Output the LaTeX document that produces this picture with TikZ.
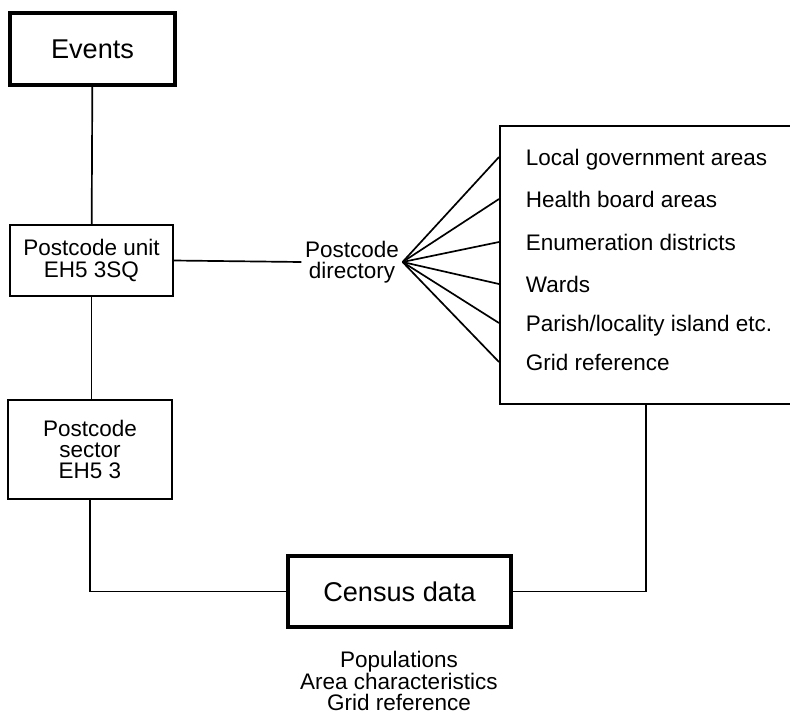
\documentclass[tikz,border=0pt]{standalone}
\usepackage{fontspec}
\setmainfont{Liberation Sans}
\tikzset{
  box/.style={draw, line width=1.2pt, align=center, inner sep=2pt, font=\fontsize{16}{15}\selectfont},
  bigbox/.style={box, line width=2.6pt, font=\fontsize{19.3}{22}\selectfont},
  item/.style={anchor=west, inner sep=0pt, text height=11.5pt, text depth=0pt, font=\fontsize{16}{15}\selectfont},
  txt/.style={align=center, inner sep=2pt, font=\fontsize{16}{15}\selectfont},
}
\begin{document}
\begin{tikzpicture}[x=0.025cm, y=-0.025cm, line width=1.2pt]
  \useasboundingbox (0,0) rectangle (790,713);
  \node[bigbox, minimum width=4.125cm, minimum height=1.8cm] (events) at (92.5,49) {Events};
  \node[box, minimum width=4.075cm, minimum height=1.775cm] (unit) at (91.5,260.5) {Postcode unit\\EH5 3SQ};
  \node[box, minimum width=4.1cm, minimum height=2.475cm] (sector) at (90,449.5) {Postcode\\sector\\EH5 3};
  \node[bigbox, minimum width=5.575cm, minimum height=1.775cm] (census) at (399.5,591.5) {Census data};
  \node[txt] (info) at (399,681) {Populations\\Area characteristics\\Grid reference};
  \node[txt] (dir) at (352,262) {Postcode\\directory};
  \node[box, anchor=north west, minimum width=8cm, minimum height=6.95cm] (list) at (499,125) {};
  \node[item] (lga) at (525,157) {Local government areas};
  \node[item] (hba) at (525,199) {Health board areas};
  \node[item] (ed) at (525,242) {Enumeration districts};
  \node[item] (wards) at (525,284) {Wards};
  \node[item] (parish) at (525,323) {Parish/locality island etc.};
  \node[item] (grid) at (525,362) {Grid reference};
  \coordinate (join) at (646,403);
  \draw (events) -- (unit);
  \draw (unit.south) -- (unit.south |- sector.north);
  \draw (sector.south) |- (census.west);
  \draw (census.east) -| (join);
  \draw (unit.east) -- (dir.west);
  \draw (dir.east) -- (list.west |- lga);
  \draw (dir.east) -- (list.west |- hba);
  \draw (dir.east) -- (list.west |- ed);
  \draw (dir.east) -- (list.west |- wards);
  \draw (dir.east) -- (list.west |- parish);
  \draw (dir.east) -- (list.west |- grid);
\end{tikzpicture}
\end{document}
